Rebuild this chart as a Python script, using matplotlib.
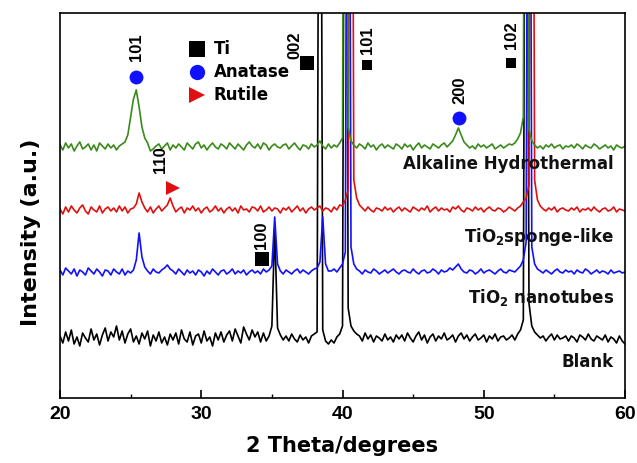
import numpy as np
import matplotlib
matplotlib.use("Agg")
import matplotlib.pyplot as plt
from matplotlib.ticker import MultipleLocator

plt.rcParams['font.family'] = ['Liberation Sans', 'DejaVu Sans']
plt.rcParams['font.weight'] = 'bold'
plt.rcParams['mathtext.default'] = 'bf'

# 2-theta grid (degrees), 0.2 deg step
two_theta = np.linspace(20, 60, 201)

# intensities (a.u.), each relative to its own baseline
blank = [
    2, -5, 6, -3, 8, -6, 1, -8, 5, 0, -4, 9, -2, 4, -7, 3, 10, -3, 6, 1,
    12, -2, 7, -5, 4, 9, -4, 2, -6, 5, -1, 7, -8, 3, -3, 6, -5, 1, -7, 4,
    -2, 5, -6, 8, -1, -4, 6, -7, 2, 4, -5, 7, -3, 1, -8, 5, -2, 6, -4, 3,
    7, -3, 9, 2, -5, 11, 4, -2, 8, 1, 6, -4, 5, -3, 2, 12, 110, 10, 3, -2,
    2, -3, 4, -1, -4, 3, -2, 1, -5, 2, 4, 6, 900, 8, -3, -6, -2, -5, 1, 4,
    12, 900, 30, 12, 7, 4, 2, -3, 5, -1, 3, -4, 2, 0, -3, 4, -2, 1, -4, 3,
    -1, 3, -3, 5, 0, -4, 2, 6, -2, 3, -5, 1, 4, -3, 2, -1, 5, -2, 0, 3,
    -4, 2, 5, -1, 3, -3, 1, 4, -2, 0, 3, -4, 2, -1, 4, -3, 1, 2, -2, 0,
    3, -2, 4, 8, 18, 900, 35, 12, 6, 3, 0, 2, -3, 1, 4, -2, 3, -1, 0, 2,
    -3, 2, 0, -4, 3, 1, -2, 4, -1, -3, 2, 0, -2, 3, -4, 1, -1, -5, 2, -3, -6,
]
nanotubes = [
    2, -3, 4, 1, -2, 3, -4, 2, 0, -3, 4, 1, -2, 3, 0, -4, 2, 1, -3, 3,
    0, -2, 3, -3, 1, -1, 2, 12, 39, 15, 5, 1, -2, 3, 0, -1, 2, 4, 7, 3,
    1, -2, 3, 0, -3, 2, -1, 1, -3, 2, 0, -4, 1, -2, 3, 0, -3, 1, 2, -2,
    0, 3, -2, 1, -1, 2, -3, 0, 2, -1, 1, -2, 3, 0, 2, 6, 55, 8, 1, -2,
    2, 0, -2, 1, 3, -1, 2, 0, -2, 1, 3, 4, 10, 55, 8, 1, 1, 3, 0, 4,
    8, 20, 900, 25, 8, 3, 1, -2, 2, 0, -1, 3, 1, -2, 0, 2, -1, 1, 3, 0,
    -2, 1, 2, 0, -1, 3, 0, -2, 1, 2, -1, 0, 3, 1, -2, 2, 0, 1, 4, 2,
    5, 8, 3, 0, -1, 2, 1, -2, 0, 3, -1, 1, 2, 0, -2, 1, 3, 0, -1, 2,
    1, 0, 3, 6, 12, 30, 900, 25, 8, 3, 1, -1, 2, 0, -2, 1, 3, 0, -1, 2,
    0, 1, -2, 2, 0, -1, 3, 1, -2, 0, 2, -1, 1, 0, -2, 2, -1, 0, 1, -1, 0,
]
sponge = [
    1, -4, 3, -2, 4, 0, -3, 2, 5, -1, -4, 3, 0, -2, 4, -3, 1, 3, -1, 2,
    -2, 4, -1, 3, -3, 1, 2, 6, 17, 8, 2, -2, 3, -3, 1, 4, -1, 2, 5, 12,
    4, -2, 1, 3, -3, 2, 0, 4, -1, 2, -3, 1, 3, -2, 0, 4, -1, 2, -3, 1,
    3, -1, 2, -3, 4, 0, 1, -2, 3, 2, -1, 4, -2, 0, 3, -1, 2, 1, -3, 2,
    0, 3, -2, 1, 4, -1, 2, -3, 1, 3, 0, 2, 4, -1, 2, 1, -2, 3, 0, 5,
    4, 10, 20, 900, 30, 12, 5, 2, -1, 3, 0, -2, 2, 1, -1, 3, 0, 2, -2, 1,
    3, -1, 2, 0, -2, 3, 1, -1, 2, 0, 4, -2, 1, 3, -1, 2, 0, 1, -2, 3,
    1, 4, 0, -2, 2, 1, -1, 3, 0, 2, -2, 1, 3, 0, -1, 2, 1, -2, 0, 3,
    1, -1, 2, 4, 8, 12, 25, 900, 30, 10, 4, 1, -1, 2, 0, 3, -2, 1, 2, 0,
    -1, 2, 0, 3, -2, 1, 0, 2, -1, 3, 0, -2, 1, 2, -1, 0, 3, -2, 1, 0, -1,
]
alkaline = [
    2, -3, 4, -1, 3, -4, 1, 5, -2, 0, 3, -3, 2, -4, 4, 1, -2, 3, -1, 2,
    -3, 1, 3, 5, 12, 30, 48, 57, 40, 20, 9, 4, -4, -2, 1, 3, -2, 1, 4, -3,
    2, -1, 3, 0, -3, 4, 1, -2, 3, 5, -1, 2, -3, 1, 4, 0, -2, 3, 1, -2,
    4, 1, -2, 3, 0, -3, 2, 5, 1, -1, 3, -2, 4, 2, -3, 1, 3, 0, -1, 2,
    3, -2, 1, 4, 0, -3, 2, 1, -2, 3, 0, 2, 6, 1, -2, 3, -1, 2, 0, 4,
    9, 900, 20, 6, 2, -1, 3, 1, -2, 4, 0, 2, -3, 1, 3, -1, 2, 0, -2, 3,
    1, -2, 3, 0, 2, -3, 1, 4, -1, 2, 0, -2, 3, 1, -1, 2, 4, 0, 3, 6,
    12, 19, 12, 5, 2, -1, 1, -2, 3, 0, 2, -1, 1, 3, -2, 0, 2, -1, 1, 3,
    2, 4, 8, 14, 30, 900, 18, 6, 2, -1, 1, -2, 2, 0, 3, -1, 1, 2, -2, 1,
    0, 2, -1, 3, 1, -2, 2, 0, -1, 3, 1, -2, 0, 2, -1, 1, -3, 2, 0, -1, 1,
]

series_names = ["Blank", "TiO$_2$ nanotubes", "TiO$_2$sponge-like", "Alkaline Hydrothermal"]
series_values = [blank, nanotubes, sponge, alkaline]
series_offsets = [60, 126, 188, 251]
series_colors = ["#000000", "#1010ff", "#e01010", "#3a8a1a"]
label_y = [36, 100, 161, 234]

# peak index annotations: (2theta, y, phase, hkl)
peak_marks_x = [25.4, 37.5, 41.7, 48.25, 51.9, 28.0, 34.3]
peak_marks_y = [321, 335, 333, 280, 335, 210, 139]
peak_phase = ["A", "Ti", "ti", "A", "ti", "R", "Ti"]
peak_hkl = ["101", "002", "101", "200", "102", "110", "100"]
peak_hkl_x = [25.4, 36.6, 41.75, 48.3, 51.95, 27.1, 34.3]
peak_hkl_y = [351, 353, 358, 308, 363, 238, 163]

legend_names = ["Ti", "Anatase", "Rutile"]

fig = plt.figure(figsize=(6.37, 4.63), dpi=100)
ax = fig.add_axes([0.0942, 0.1404, 0.8870, 0.8316])

for vals, off, col in zip(series_values, series_offsets, series_colors):
    ax.plot(two_theta, np.array(vals) + off, color=col, lw=1.2)

for name, y in zip(series_names, label_y):
    ax.text(59.2, y, name, ha='right', va='center', fontsize=12,
            fontweight='bold', color='#111111', family='DejaVu Sans')

marker_style = {
    "A": dict(marker='o', color='#1010ff', ms=10),
    "Ti": dict(marker='s', color='#000000', ms=10),
    "ti": dict(marker='s', color='#000000', ms=7),
    "R": dict(marker='>', color='#e01010', ms=10),
}
for x, y, ph, hkl, hx, hy in zip(peak_marks_x, peak_marks_y, peak_phase,
                                 peak_hkl, peak_hkl_x, peak_hkl_y):
    st = marker_style[ph]
    ax.plot([x], [y], linestyle='none', marker=st['marker'], color=st['color'],
            markersize=st['ms'], markeredgewidth=0)
    ax.text(hx, hy, hkl, rotation=90, ha='center', va='center', fontsize=12,
            fontweight='bold')

# legend drawn as marker + text
leg_y = [349, 326, 303]
leg_st = ["Ti", "A", "R"]
for name, y, ph in zip(legend_names, leg_y, leg_st):
    st = marker_style[ph]
    ax.plot([29.7], [y], linestyle='none', marker=st['marker'], color=st['color'],
            markersize=11, markeredgewidth=0)
    ax.text(30.9, y, name, ha='left', va='center', fontsize=12, fontweight='bold',
            family='DejaVu Sans')

ax.set_xlim(20, 60)
ax.set_ylim(0, 385)
ax.set_yticks([])
ax.xaxis.set_major_locator(MultipleLocator(10))
ax.xaxis.set_minor_locator(MultipleLocator(5))
ax.tick_params(axis='x', which='major', direction='in', length=6, width=1.2,
               labelsize=14, top=False, pad=6)
ax.tick_params(axis='x', which='minor', direction='in', length=3, width=1.0, top=False)
for lab in ax.get_xticklabels():
    lab.set_fontweight('bold')
for s in ax.spines.values():
    s.set_linewidth(1.2)

ax.set_xlabel("2 Theta/degrees", fontsize=15, fontweight='bold', family='DejaVu Sans')
ax.xaxis.set_label_coords(0.5, -0.1)
ax.set_ylabel("Intensity (a.u.)", fontsize=16, fontweight='bold', family='DejaVu Sans')
ax.yaxis.set_label_coords(-0.034, 0.43)

fig.savefig("out.png", dpi=100)
